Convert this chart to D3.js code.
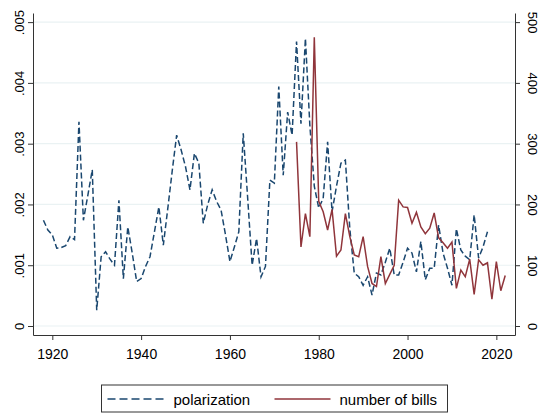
<!DOCTYPE html>
<meta charset="utf-8">
<style>
body { margin: 0; background: #fff; }
text { font-family: "Liberation Sans", Arial, sans-serif; font-size: 13px; fill: #000; }
.axis--x text { font-size: 14px; }
.legend text { font-size: 15px; }
.grid line { stroke: #eaf2f3; stroke-width: 1.2px; }
.axis path, .axis line { stroke: #333; }
.line { fill: none; stroke-width: 1.5px; }
</style>
<svg width="542" height="413"></svg>
<script src="https://d3js.org/d3.v7.min.js"></script>
<script>

// polarization, one value per year 1918-2018
var polYears = d3.range(1918, 2019);
var polValues = [
  0.00174, 0.00158, 0.00150, 0.00128, 0.00129, 0.00132, 0.00147, 0.00142, 0.00336, 0.00174,
  0.00215, 0.00257, 0.00026, 0.00114, 0.00122, 0.00110, 0.00100, 0.00207, 0.00078, 0.00163,
  0.00120, 0.00073, 0.00078, 0.00098, 0.00114, 0.00155, 0.00196, 0.00133, 0.00193, 0.00255,
  0.00314, 0.00290, 0.00262, 0.00224, 0.00284, 0.00268, 0.00169, 0.00200, 0.00224, 0.00205,
  0.00191, 0.00150, 0.00106, 0.00130, 0.00155, 0.00317, 0.00210, 0.00100, 0.00144, 0.00081,
  0.00098, 0.00240, 0.00235, 0.00394, 0.00248, 0.00352, 0.00314, 0.00468, 0.00333, 0.00473,
  0.00330, 0.00230, 0.00194, 0.00210, 0.00303, 0.00188, 0.00230, 0.00268, 0.00273, 0.00160,
  0.00087, 0.00081, 0.00067, 0.00081, 0.00051, 0.00087, 0.00084, 0.00105, 0.00128, 0.00084,
  0.00084, 0.00105, 0.00128, 0.00120, 0.00089, 0.00139, 0.00076, 0.00095, 0.00095, 0.00166,
  0.00120, 0.00095, 0.00067, 0.00160, 0.00125, 0.00115, 0.00109, 0.00183, 0.00112, 0.00130,
  0.00155
];

// number of bills, one value per year 1975-2022
var billYears = d3.range(1975, 2023);
var billValues = [
  303, 130, 185, 147, 475, 205, 188, 158, 192, 115,
  125, 185, 147, 117, 114, 147, 98, 70, 65, 114,
  70, 85, 100, 207, 196, 195, 169, 187, 163, 152,
  161, 186, 145, 137, 128, 138, 62, 92, 81, 110,
  52, 109, 100, 104, 44, 106, 58, 83
];

var xTicks = [1920, 1940, 1960, 1980, 2000, 2020];
var leftTicks = [0, 0.001, 0.002, 0.003, 0.004, 0.005];
var rightTicks = [0, 100, 200, 300, 400, 500];
var legendLabels = ["polarization", "number of bills"];

var blue = "#1a476f", red = "#90353b";

var svg = d3.select("svg"),
    margin = {top: 13, right: 27, bottom: 78, left: 33},
    width = 542 - margin.left - margin.right,
    height = 413 - margin.top - margin.bottom,
    g = svg.append("g").attr("transform", "translate(" + margin.left + "," + margin.top + ")");

var x = d3.scaleLinear().domain([1915.65, 2024.2]).range([0, width]),
    y = d3.scaleLinear().domain([-0.000148, 0.00515]).range([height, 0]),
    y2 = d3.scaleLinear().domain([-14.8, 515]).range([height, 0]);

var fmtLeft = function(d) { return d === 0 ? "0" : d3.format(".3f")(d).replace(/^0/, ""); };

// gridlines
g.append("g")
    .attr("class", "grid")
  .selectAll("line")
  .data(leftTicks)
  .enter().append("line")
    .attr("x1", 0).attr("x2", width)
    .attr("y1", function(d) { return y(d); })
    .attr("y2", function(d) { return y(d); });

// axes
g.append("g")
    .attr("class", "axis axis--x")
    .attr("transform", "translate(0," + height + ")")
    .call(d3.axisBottom(x).tickValues(xTicks).tickFormat(d3.format("d")).tickSize(5).tickSizeOuter(0))
  .selectAll("text")
    .attr("dy", "1.15em");

var yl = g.append("g")
    .attr("class", "axis axis--y")
    .call(d3.axisLeft(y).tickValues(leftTicks).tickFormat(fmtLeft).tickSize(5).tickSizeOuter(0));
yl.selectAll(".tick text")
    .attr("x", null).attr("dy", null)
    .attr("text-anchor", "middle")
    .attr("transform", "translate(-9,0) rotate(-90)");

var yr = g.append("g")
    .attr("class", "axis axis--y2")
    .attr("transform", "translate(" + width + ",0)")
    .call(d3.axisRight(y2).tickValues(rightTicks).tickSize(5).tickSizeOuter(0));
yr.selectAll(".tick text")
    .attr("x", null).attr("dy", null)
    .attr("text-anchor", "middle")
    .attr("transform", "translate(13,0) rotate(90)");

g.selectAll(".axis .domain").attr("stroke", "#333");

// lines
var polData = polYears.map(function(yr, i) { return {year: yr, v: polValues[i]}; });
var billData = billYears.map(function(yr, i) { return {year: yr, v: billValues[i]}; });

g.append("path")
    .datum(polData)
    .attr("class", "line")
    .attr("stroke", blue)
    .attr("stroke-dasharray", "6,3")
    .attr("d", d3.line().x(function(d) { return x(d.year); }).y(function(d) { return y(d.v); }));

g.append("path")
    .datum(billData)
    .attr("class", "line")
    .attr("stroke", red)
    .attr("d", d3.line().x(function(d) { return x(d.year); }).y(function(d) { return y2(d.v); }));

// legend
var leg = svg.append("g").attr("class", "legend").attr("transform", "translate(101.5,385)");
leg.append("rect")
    .attr("width", 346).attr("height", 27)
    .attr("fill", "#fff").attr("stroke", "#333");
leg.append("line")
    .attr("x1", 6).attr("x2", 64).attr("y1", 14).attr("y2", 14)
    .attr("stroke", blue).attr("stroke-width", 1.5).attr("stroke-dasharray", "8,4");
leg.append("text").attr("x", 72).attr("y", 19.5).text(legendLabels[0]);
leg.append("line")
    .attr("x1", 173).attr("x2", 229).attr("y1", 14).attr("y2", 14)
    .attr("stroke", red).attr("stroke-width", 1.5);
leg.append("text").attr("x", 238).attr("y", 19.5).text(legendLabels[1]);

</script>
